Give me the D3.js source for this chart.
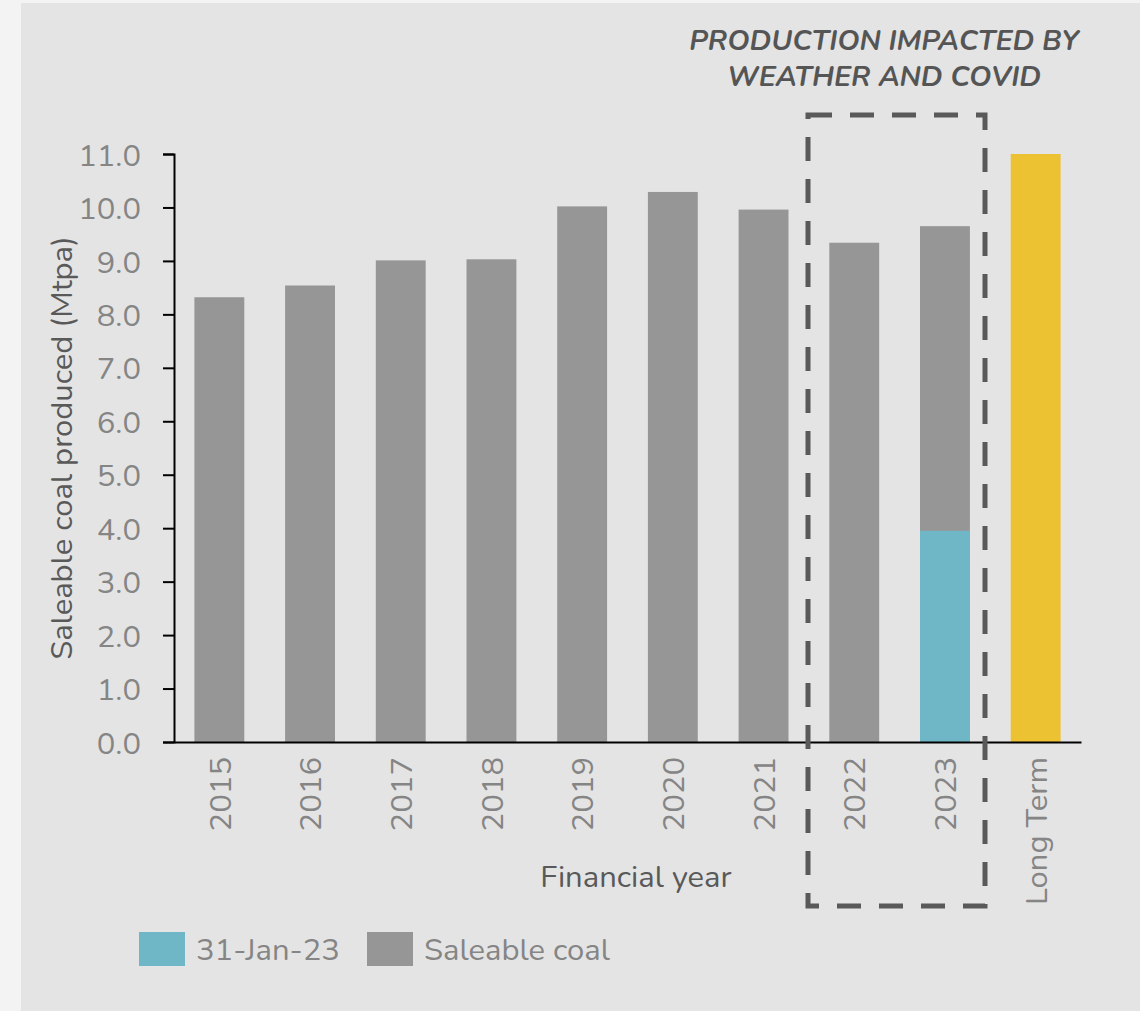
<!DOCTYPE html>
<html><head><meta charset="utf-8">
<script src="https://cdn.jsdelivr.net/npm/d3@7"></script>
<style>
html,body{margin:0;padding:0;background:#f3f3f3;}
svg{display:block;font-family:Nunito,Lato,"Open Sans",sans-serif;}
</style></head>
<body>
<svg id="chart" width="1140" height="1011"></svg>
<script>
const categories = ["2015","2016","2017","2018","2019","2020","2021","2022","2023","Long Term"];
const saleableCoal = [8.32, 8.54, 9.01, 9.03, 10.02, 10.29, 9.96, 9.34, 9.65, null];
const ytdJan23 = [null, null, null, null, null, null, null, null, 3.95, null];
const longTerm = [null, null, null, null, null, null, null, null, null, 11.0];
const yTicks = [0,1,2,3,4,5,6,7,8,9,10,11];
const legendLabels = ["31-Jan-23", "Saleable coal"];
const annotationLines = ["PRODUCTION IMPACTED BY", "WEATHER AND COVID"];
const colors = {saleable:"#969696", ytd:"#6fb7c7", longTerm:"#ecc232"};

const FS = 31;
const svg = d3.select("#chart");
svg.append("rect").attr("x",21).attr("y",3).attr("width",1119).attr("height",1008).attr("fill","#e4e4e4");

const x = d3.scaleBand().domain(categories).range([174,1081]).paddingInner(0.45).paddingOuter(0.225);
const y = d3.scaleLinear().domain([0,11]).range([742,154]);

// bars
const g = svg.append("g");
function bars(vals, color){
  g.append("g").selectAll("rect").data(categories.map((c,i)=>({c,v:vals[i]})).filter(d=>d.v!=null))
   .join("rect").attr("x",d=>x(d.c)).attr("width",x.bandwidth())
   .attr("y",d=>y(d.v)).attr("height",d=>y(0)-y(d.v)).attr("fill",color);
}
bars(saleableCoal, colors.saleable);
bars(ytdJan23, colors.ytd);
bars(longTerm, colors.longTerm);

// y axis
const ya = svg.append("g").attr("transform","translate(174,0)")
 .call(d3.axisLeft(y).tickValues(yTicks).tickFormat(d3.format(".1f")).tickSize(11).tickPadding(22));
ya.attr("font-family",null).attr("font-size",null);
ya.selectAll("path,line").attr("stroke","#000").attr("stroke-width",2);
ya.selectAll("text").attr("font-size",FS).attr("fill","#858585").attr("dy","0.36em");

// x axis
const xa = svg.append("g").attr("transform","translate(0,742)")
 .call(d3.axisBottom(x).tickSize(0).tickSizeOuter(0).tickPadding(0));
xa.attr("font-family",null).attr("font-size",null);
xa.select("path").attr("stroke","#000").attr("stroke-width",2);
xa.selectAll("text").attr("font-size",FS).attr("fill","#858585")
 .attr("transform","rotate(-90)").attr("text-anchor","end")
 .attr("x",-15).attr("y",0).attr("dy","0.36em");

// axis titles
svg.append("text").attr("transform","translate(72,448) rotate(-90)").attr("text-anchor","middle")
 .attr("font-size",FS).attr("fill","#595959").text("Saleable coal produced (Mtpa)");
svg.append("text").attr("x",636).attr("y",887).attr("text-anchor","middle")
 .attr("font-size",FS).attr("fill","#595959").text("Financial year");

// annotation box
svg.append("rect").attr("x",808).attr("y",115).attr("width",177).attr("height",791)
 .attr("fill","none").attr("stroke","#595959").attr("stroke-width",5).attr("stroke-dasharray","24 18");
svg.append("g").selectAll("text").data(annotationLines).join("text")
 .attr("x",884).attr("y",(d,i)=>50+i*36).attr("text-anchor","middle").attr("font-size",28.5)
 .attr("font-weight","bold").attr("font-style","italic").attr("fill","#555").text(d=>d);

// legend
const leg = svg.append("g");
const legColors = [colors.ytd, colors.saleable];
const legX = [139, 367];
legendLabels.forEach((l,i)=>{
  leg.append("rect").attr("x",legX[i]).attr("y",932).attr("width",46).attr("height",34).attr("fill",legColors[i]);
  leg.append("text").attr("x",legX[i]+57).attr("y",960).attr("font-size",FS).attr("fill","#858585").text(l);
});
</script>
</body></html>
